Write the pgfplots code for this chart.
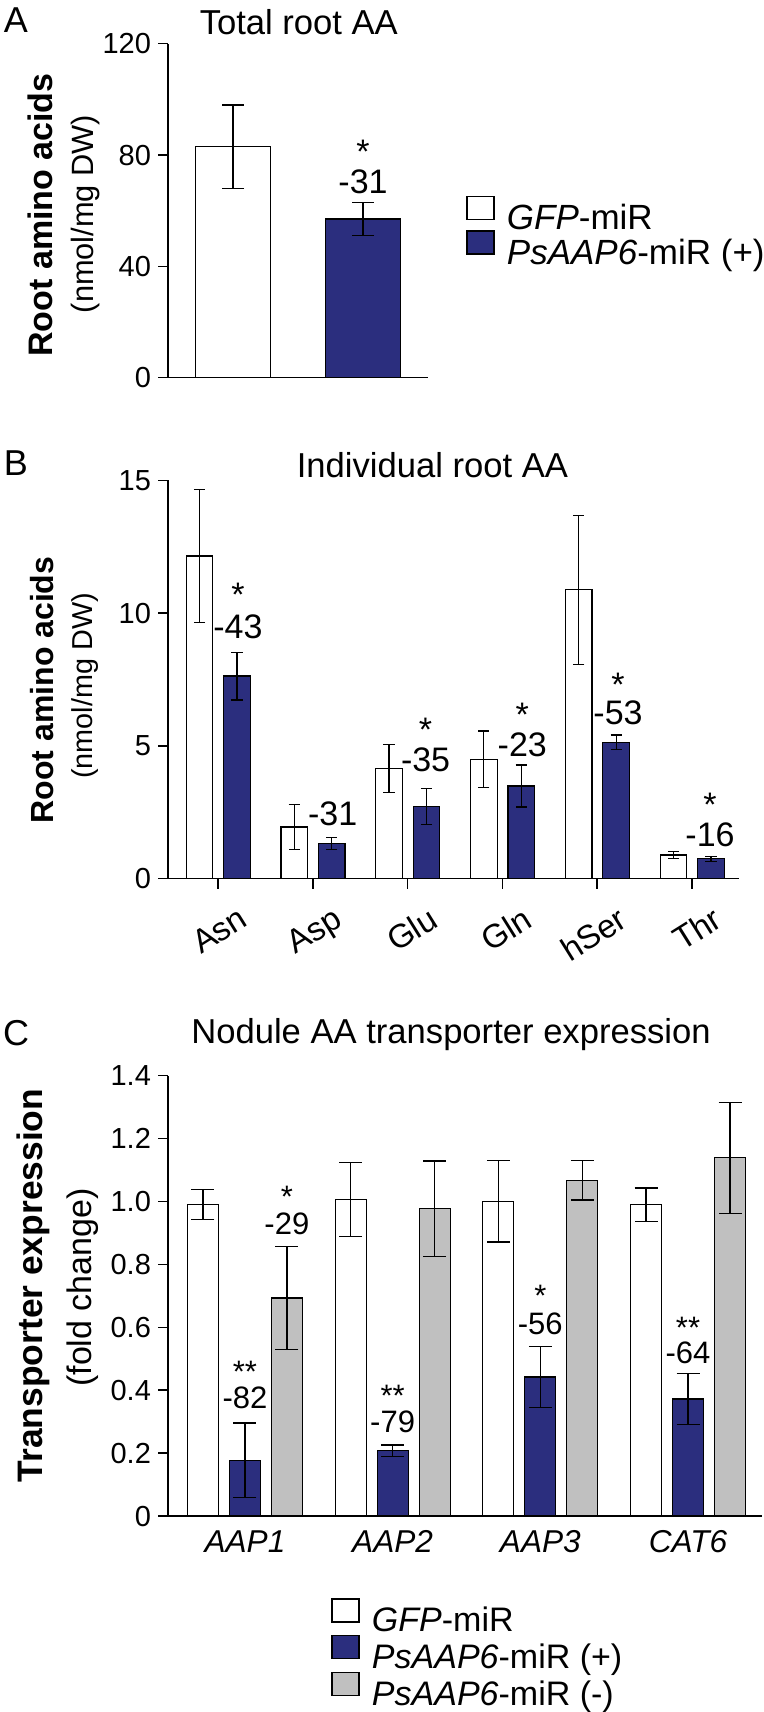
\documentclass[border=0pt]{standalone}
\usepackage{fontspec}
\setmainfont{Liberation Sans}
\usepackage{pgfplots}
\usepackage{pgfplotstable}
\pgfplotsset{compat=1.18}
\definecolor{aapblue}{RGB}{43,46,126}
\definecolor{aapgray}{RGB}{192,192,192}
\newcommand{\fs}[1]{\fontsize{#1}{#1}\selectfont}

\pgfplotstableread{
x y e
0 12.15 2.5
1 1.95 0.85
2 4.15 0.9
3 4.49 1.07
4 10.88 2.8
5 0.89 0.14
}\Bwhite
\pgfplotstableread{
x y e
0 7.63 0.9
1 1.33 0.23
2 2.71 0.68
3 3.49 0.79
4 5.13 0.28
5 0.75 0.1
}\Bblue
\pgfplotstableread{
x y e
0 0.99 0.047
1 1.006 0.117
2 1.001 0.13
3 0.99 0.053
}\Cwhite
\pgfplotstableread{
x y e
0 0.177 0.119
1 0.208 0.018
2 0.442 0.097
3 0.372 0.082
}\Cblue
\pgfplotstableread{
x y e
0 0.693 0.163
1 0.977 0.152
2 1.068 0.063
3 1.139 0.177
}\Cgray

\pgfplotsset{
  sq legend/.style={legend image code/.code={\draw[##1, line width=0.8pt] (0pt,0.5pt) rectangle (13.5pt,12pt);}},
  base/.style={scale only axis, axis lines=left,
    axis line style={-, line width=0.75pt, black},
    tick align=outside, major tick length=5pt,
    tick style={line width=0.75pt, black},
    /pgf/number format/assume math mode=true,
    tick label style={font=\fs{14.5}}, clip=false},
  errs/.style={error bars/.cd, y dir=both, y explicit,
    error bar style={black, line width=0.6pt},
    error mark options={black, line width=0.6pt, mark size=#1, rotate=90}},
}

\begin{document}
\begin{tikzpicture}
\useasboundingbox (0,0) rectangle (382pt,-856pt);

% ---------------- Panel A ----------------
\begin{axis}[base, at={(84pt,-188.85pt)}, anchor=south west,
  width=130pt, height=167pt,
  xmin=0.5, xmax=2.5, ymin=0, ymax=120, ytick={0,40,80,120}, xtick=\empty,
  legend cell align=left,
  legend style={draw=none, fill=none, at={(axis description cs:1.146,0.432)}, anchor=west,
    inner sep=0pt, row sep=-3pt, column sep=6pt, font=\fs{17.5},
    nodes={inner sep=0pt, text height=12.5pt, text depth=3.5pt}}]
\addplot[ybar, bar width=37.75pt, bar shift=0pt, fill=white, draw=black, line width=0.6pt, sq legend, errs=5.5pt]
  coordinates {(1,83) +- (0,15)};
\addlegendentry{\textit{GFP}-miR}
\addplot[ybar, bar width=37.75pt, bar shift=0pt, fill=aapblue, draw=black, line width=0.6pt, sq legend, errs=5.5pt]
  coordinates {(2,57) +- (0,6)};
\addlegendentry{\textit{PsAAP6}-miR (+)}
\node[font=\fs{17}] at (axis cs:2,81.2) {*};
\node[font=\fs{17}] at (axis cs:2,70.4) {-31};
\end{axis}

% ---------------- Panel B ----------------
\begin{axis}[base, at={(84pt,-439.35pt)}, anchor=south west,
  width=285.5pt, height=199.2pt,
  xmin=-0.527, xmax=5.496, ymin=0, ymax=15, ytick={0,5,10,15},
  xtick={0,1,2,3,4,5}, xticklabels={Asn,Asp,Glu,Gln,hSer,Thr},
  xticklabel style={rotate=32, anchor=north east, inner sep=0pt, xshift=4pt, yshift=-12pt, font=\fs{16.5}}]
\addplot[ybar, bar width=13.25pt, bar shift=0pt, fill=white, draw=black, line width=0.6pt, errs=2.8pt]
  table[x expr=\thisrow{x}-0.195, y=y, y error=e] {\Bwhite};
\addplot[ybar, bar width=13.25pt, bar shift=0pt, fill=aapblue, draw=black, line width=0.6pt, errs=2.8pt]
  table[x expr=\thisrow{x}+0.2, y=y, y error=e] {\Bblue};
\node[font=\fs{17}] at (axis cs:0.21,10.68) {*};
\node[font=\fs{17}] at (axis cs:0.21,9.49) {-43};
\node[font=\fs{17}] at (axis cs:1.21,2.46) {-31};
\node[font=\fs{17}] at (axis cs:2.19,5.6) {*};
\node[font=\fs{17}] at (axis cs:2.19,4.47) {-35};
\node[font=\fs{17}] at (axis cs:3.21,6.16) {*};
\node[font=\fs{17}] at (axis cs:3.21,5.03) {-23};
\node[font=\fs{17}] at (axis cs:4.22,7.29) {*};
\node[font=\fs{17}] at (axis cs:4.22,6.23) {-53};
\node[font=\fs{17}] at (axis cs:5.19,2.77) {*};
\node[font=\fs{17}] at (axis cs:5.19,1.64) {-16};
\end{axis}

% ---------------- Panel C ----------------
\begin{axis}[base, at={(84pt,-758pt)}, anchor=south west,
  width=297pt, height=220.15pt,
  xmin=-0.521, xmax=3.501, ymin=0, ymax=1.4,
  ytick={0,0.2,0.4,0.6,0.8,1.0,1.2,1.4},
  yticklabels={0,0.2,0.4,0.6,0.8,1.0,1.2,1.4},
  xtick={0,1,2,3}, xticklabels={\textit{AAP1},\textit{AAP2},\textit{AAP3},\textit{CAT6}},
  xtick style={draw=none},
  xticklabel style={anchor=north, inner sep=0pt, yshift=-2pt, font=\fs{15.8}},
  legend cell align=left,
  legend style={draw=none, fill=none, at={(axis description cs:0.2744,-0.316)}, anchor=west,
    inner sep=0pt, row sep=-2pt, column sep=6pt, font=\fs{17},
    nodes={inner sep=0pt, text height=12.5pt, text depth=3.5pt}}]
\addplot[ybar, bar width=15.5pt, bar shift=0pt, fill=white, draw=black, line width=0.6pt, sq legend, errs=5.75pt]
  table[x expr=\thisrow{x}-0.2844, y=y, y error=e] {\Cwhite};
\addlegendentry{\textit{GFP}-miR}
\addplot[ybar, bar width=15.5pt, bar shift=0pt, fill=aapblue, draw=black, line width=0.6pt, sq legend, errs=5.75pt]
  table[x=x, y=y, y error=e] {\Cblue};
\addlegendentry{\textit{PsAAP6}-miR (+)}
\addplot[ybar, bar width=15.5pt, bar shift=0pt, fill=aapgray, draw=black, line width=0.6pt, sq legend, errs=5.75pt]
  table[x expr=\thisrow{x}+0.2844, y=y, y error=e] {\Cgray};
\addlegendentry{\textit{PsAAP6}-miR (-)}
\node[font=\fs{15.5}] at (axis cs:0,0.457) {**};
\node[font=\fs{15.5}] at (axis cs:0,0.375) {-82};
\node[font=\fs{15.5}] at (axis cs:0.284,1.016) {*};
\node[font=\fs{15.5}] at (axis cs:0.284,0.928) {-29};
\node[font=\fs{15.5}] at (axis cs:1,0.383) {**};
\node[font=\fs{15.5}] at (axis cs:1,0.299) {-79};
\node[font=\fs{15.5}] at (axis cs:2,0.700) {*};
\node[font=\fs{15.5}] at (axis cs:2,0.611) {-56};
\node[font=\fs{15.5}] at (axis cs:3,0.598) {**};
\node[font=\fs{15.5}] at (axis cs:3,0.52) {-64};
\end{axis}

% ---------------- Titles, letters, y labels ----------------
\node[font=\fs{18}] at (8pt,-10pt) {A};
\node[font=\fs{18}] at (8pt,-231.5pt) {B};
\node[font=\fs{18}] at (8pt,-516.5pt) {C};
\node[font=\fs{17.3}] at (149.4pt,-11pt) {Total root AA};
\node[font=\fs{17.3}] at (216.2pt,-232.5pt) {Individual root AA};
\node[font=\fs{17.3}] at (225.5pt,-517.2pt) {Nodule AA transporter expression};

\node[rotate=90, font=\fs{17}\bfseries] at (20.25pt,-107.5pt) {Root amino acids};
\node[rotate=90, font=\fs{15.4}] at (43pt,-107pt) {(nmol/mg DW)};
\node[rotate=90, font=\fs{16}\bfseries] at (20.8pt,-345pt) {Root amino acids};
\node[rotate=90, font=\fs{14.4}] at (42.3pt,-342.9pt) {(nmol/mg DW)};
\node[rotate=90, font=\fs{17.7}\bfseries] at (16.75pt,-642.75pt) {Transporter expression};
\node[rotate=90, font=\fs{17}] at (41.5pt,-643.75pt) {(fold change)};
\end{tikzpicture}
\end{document}
